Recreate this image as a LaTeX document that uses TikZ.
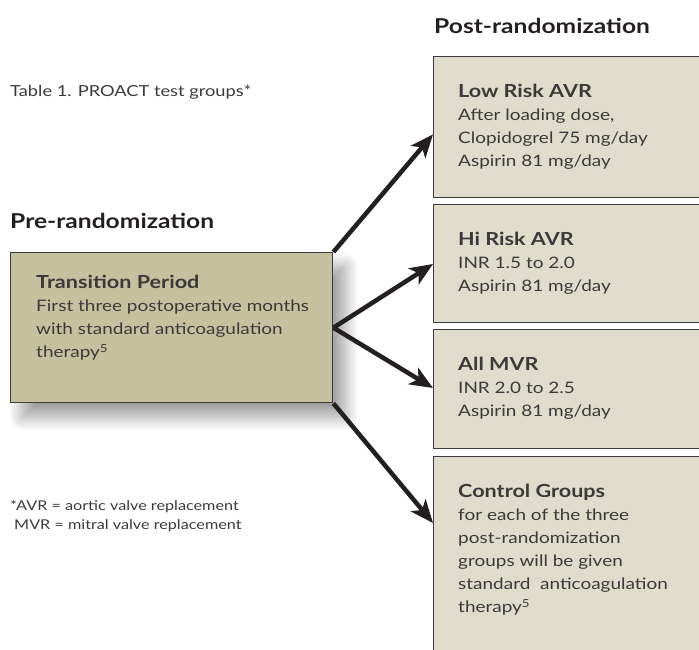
\documentclass[tikz,border=0pt]{standalone}
\usepackage{fontspec}
\setmainfont{Lato}[FakeStretch=1.2]
\usetikzlibrary{positioning, calc, arrows.meta, shadows.blur}
\definecolor{tanfill}{HTML}{C5C09E}
\definecolor{beige}{HTML}{DFDCCB}
\definecolor{boxline}{HTML}{3C3C3C}
\definecolor{ink}{HTML}{3A3A3A}
\definecolor{arrowink}{HTML}{231F20}

\begin{document}
\begin{tikzpicture}[x=1pt, y=-1pt, >={Stealth[length=23pt,width=19pt,inset=6pt]},
  groupbox/.style={draw=boxline, line width=1.4pt, fill=beige, minimum width=300pt, inner sep=0pt, anchor=north west},
  heading/.style={font=\bfseries\fontsize{20.5}{24}\selectfont, anchor=west, inner sep=0pt, text=arrowink},
  boxtext/.style={align=left, anchor=north west, inner sep=0pt, font=\fontsize{15.8}{23}\selectfont, text=ink},
  link/.style={->, line width=4.5pt, draw=arrowink}]
  \clip (0,0) rectangle (699,650);
  \useasboundingbox (0,0) rectangle (699,650);

  % headings
  \node[heading] (post) at (434,26) {Post-randomization};
  \node[heading] (pre) at (10,221) {Pre-randomization};
  \node[anchor=west, inner sep=0pt, text=ink, font=\fontsize{15.2}{20}\selectfont] (title) at (10,92) {Table 1. PROACT test groups*};

  % transition period
  \node[draw=boxline, line width=1.4pt, fill=tanfill, anchor=north west, inner sep=0pt,
        minimum width=322pt, minimum height=150pt,
        blur shadow={shadow xshift=12pt, shadow yshift=-14pt, shadow blur radius=14pt,
                     shadow blur steps=30, shadow opacity=40}] (trans) at (10,252) {};
  \node[boxtext, below right=23pt and 26pt of trans.north west] (transtext)
    {{\bfseries\fontsize{18}{22}\selectfont Transition Period}\\
     First three postoperative months\\
     with standard anticoagulation\\
     therapy\textsuperscript{5}};

  % post-randomization groups
  \node[groupbox, minimum height=141pt] (low) at (433,56) {};
  \node[boxtext, below right=28pt and 25pt of low.north west] (lowtext)
    {{\bfseries\fontsize{18}{22}\selectfont Low Risk AVR}\\
     After loading dose,\\
     Clopidogrel 75 mg/day\\
     Aspirin 81 mg/day};
  \node[groupbox, minimum height=118pt] (hi) at (433,204) {};
  \node[boxtext, below right=28pt and 25pt of hi.north west] (hitext)
    {{\bfseries\fontsize{18}{22}\selectfont Hi Risk AVR}\\
     INR 1.5 to 2.0\\
     Aspirin 81 mg/day};
  \node[groupbox, minimum height=119pt] (mvr) at (433,329) {};
  \node[boxtext, below right=28pt and 25pt of mvr.north west] (mvrtext)
    {{\bfseries\fontsize{18}{22}\selectfont All MVR}\\
     INR 2.0 to 2.5\\
     Aspirin 81 mg/day};
  \node[groupbox, minimum height=230pt] (ctrl) at (433,456) {};
  \node[boxtext, below right=28pt and 25pt of ctrl.north west] (ctrltext)
    {{\bfseries\fontsize{18}{22}\selectfont Control Groups}\\
     for each of the three\\
     post-randomization\\
     groups will be given\\
     standard~ anticoagulation\\
     therapy\textsuperscript{5}};

  % footnote
  \node[align=left, anchor=north west, inner sep=0pt, text=ink, font=\fontsize{13.5}{19}\selectfont] (note) at (10,500)
    {*AVR = aortic valve replacement\\
     \hspace*{4pt}MVR = mitral valve replacement};

  \coordinate (tiplow) at ([yshift=64pt]low.south west);
  \coordinate (tiphi) at ([yshift=-60pt]hi.north west);
  \coordinate (tipmvr) at ([yshift=-59pt]mvr.north west);
  \coordinate (tipctrl) at ([yshift=-67pt]ctrl.north west);
  \path
    (trans.north east) edge[link] (tiplow)
    (trans.east) edge[link] (tiphi)
    (trans.east) edge[link] (tipmvr)
    (trans.south east) edge[link] (tipctrl);
\end{tikzpicture}
\end{document}
